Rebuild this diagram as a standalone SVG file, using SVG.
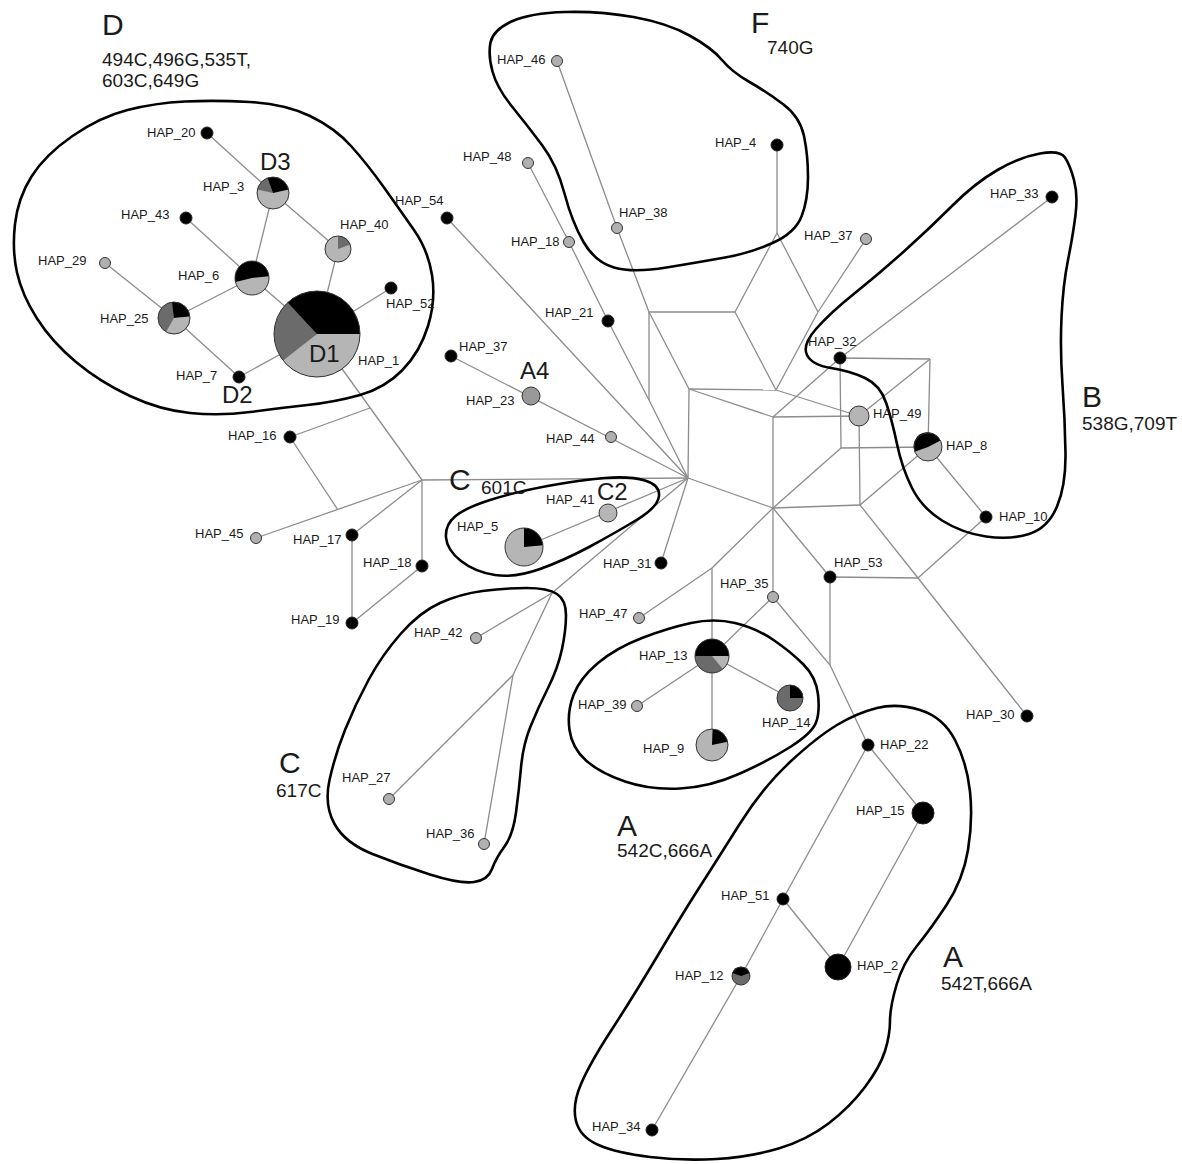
<svg xmlns="http://www.w3.org/2000/svg" width="1182" height="1164" viewBox="0 0 1182 1164">
<style>
.e{stroke:#8c8c8c;stroke-width:1.3;fill:none}
.hull{fill:none;stroke:#000;stroke-width:2.6}
text{font-family:"Liberation Sans",Arial,sans-serif;fill:#1a1a1a}
.lbl{font-size:13px}
.big{font-size:30px}
.mut{font-size:19px}
.sub{font-size:24px}
.nb{fill:#000;stroke:#222;stroke-width:1}
.ng{fill:#b0b0b0;stroke:#333;stroke-width:1}
.k{fill:#000}
.dg{fill:#6b6b6b}
.lg{fill:#b5b5b5}
.ring{fill:none;stroke:#333;stroke-width:1}
</style>
<rect width="1182" height="1164" fill="#fff"/>
<g id="connectors">
<line class="e" x1="207" y1="133" x2="273" y2="193"/>
<line class="e" x1="273" y1="193" x2="338" y2="249"/>
<line class="e" x1="273" y1="193" x2="252" y2="278"/>
<line class="e" x1="186" y1="218" x2="252" y2="278"/>
<line class="e" x1="252" y1="278" x2="174" y2="318"/>
<line class="e" x1="105" y1="263" x2="174" y2="318"/>
<line class="e" x1="174" y1="318" x2="239" y2="377"/>
<line class="e" x1="239" y1="377" x2="317" y2="334"/>
<line class="e" x1="252" y1="278" x2="317" y2="334"/>
<line class="e" x1="338" y1="249" x2="317" y2="334"/>
<line class="e" x1="391" y1="288" x2="317" y2="334"/>
<line class="e" x1="317" y1="334" x2="422" y2="480"/>
<line class="e" x1="290" y1="437" x2="370" y2="408"/>
<line class="e" x1="290" y1="437" x2="338" y2="510"/>
<line class="e" x1="256" y1="538" x2="422" y2="480"/>
<line class="e" x1="422" y1="480" x2="352" y2="535"/>
<line class="e" x1="352" y1="535" x2="352" y2="623"/>
<line class="e" x1="422" y1="480" x2="422" y2="566"/>
<line class="e" x1="422" y1="566" x2="352" y2="623"/>
<line class="e" x1="422" y1="480" x2="688" y2="478"/>
<line class="e" x1="447" y1="218" x2="688" y2="478"/>
<polyline class="e" points="528,163 569,242 608,321 649,400 688,478"/>
<polyline class="e" points="557,61 617,228 649,312"/>
<line class="e" x1="649" y1="312" x2="649" y2="400"/>
<line class="e" x1="649" y1="312" x2="689" y2="389"/>
<line class="e" x1="649" y1="312" x2="735" y2="312"/>
<line class="e" x1="777" y1="145" x2="777" y2="233"/>
<line class="e" x1="777" y1="233" x2="735" y2="312"/>
<line class="e" x1="777" y1="233" x2="818" y2="312"/>
<line class="e" x1="735" y1="312" x2="776" y2="390"/>
<line class="e" x1="818" y1="312" x2="776" y2="390"/>
<line class="e" x1="866" y1="239" x2="818" y2="312"/>
<line class="e" x1="689" y1="389" x2="776" y2="390"/>
<line class="e" x1="689" y1="389" x2="688" y2="478"/>
<line class="e" x1="689" y1="389" x2="773" y2="417"/>
<line class="e" x1="776" y1="390" x2="859" y2="416"/>
<line class="e" x1="840" y1="358" x2="930" y2="359"/>
<line class="e" x1="930" y1="359" x2="928" y2="447"/>
<line class="e" x1="928" y1="447" x2="841" y2="448"/>
<line class="e" x1="841" y1="448" x2="840" y2="358"/>
<line class="e" x1="773" y1="417" x2="859" y2="416"/>
<line class="e" x1="859" y1="416" x2="860" y2="505"/>
<line class="e" x1="860" y1="505" x2="773" y2="508"/>
<line class="e" x1="773" y1="508" x2="773" y2="417"/>
<line class="e" x1="840" y1="358" x2="773" y2="417"/>
<line class="e" x1="930" y1="359" x2="859" y2="416"/>
<line class="e" x1="928" y1="447" x2="860" y2="505"/>
<line class="e" x1="841" y1="448" x2="773" y2="508"/>
<line class="e" x1="1052" y1="197" x2="840" y2="358"/>
<line class="e" x1="928" y1="447" x2="986" y2="517"/>
<line class="e" x1="688" y1="478" x2="773" y2="508"/>
<line class="e" x1="451" y1="356" x2="688" y2="478"/>
<line class="e" x1="524" y1="547" x2="688" y2="478"/>
<line class="e" x1="688" y1="478" x2="661" y2="563"/>
<line class="e" x1="688" y1="478" x2="552" y2="593"/>
<line class="e" x1="552" y1="593" x2="476" y2="638"/>
<line class="e" x1="552" y1="593" x2="513" y2="675"/>
<line class="e" x1="513" y1="675" x2="389" y2="799"/>
<line class="e" x1="513" y1="675" x2="484" y2="844"/>
<line class="e" x1="773" y1="508" x2="712" y2="568"/>
<line class="e" x1="712" y1="568" x2="639" y2="618"/>
<line class="e" x1="712" y1="568" x2="712" y2="656"/>
<line class="e" x1="773" y1="508" x2="773" y2="597"/>
<line class="e" x1="773" y1="508" x2="830" y2="577"/>
<line class="e" x1="773" y1="597" x2="712" y2="656"/>
<line class="e" x1="712" y1="656" x2="637" y2="706"/>
<line class="e" x1="712" y1="656" x2="790" y2="698"/>
<line class="e" x1="712" y1="656" x2="712" y2="745"/>
<polyline class="e" points="773,597 830,665 868,745"/>
<line class="e" x1="830" y1="577" x2="830" y2="665"/>
<line class="e" x1="830" y1="577" x2="918" y2="578"/>
<line class="e" x1="918" y1="578" x2="986" y2="517"/>
<line class="e" x1="918" y1="578" x2="860" y2="505"/>
<line class="e" x1="918" y1="578" x2="1027" y2="716"/>
<line class="e" x1="868" y1="745" x2="923" y2="813"/>
<line class="e" x1="868" y1="745" x2="783" y2="899"/>
<line class="e" x1="783" y1="899" x2="838" y2="967"/>
<line class="e" x1="923" y1="813" x2="838" y2="967"/>
<polyline class="e" points="783,899 741,976 652,1130"/>
</g>
<g id="hulls">
<path id="hull_D" class="hull" d="M185,101.5 Q215,100 250,102 Q285,104 310,116 Q335,128 351.5,146.5 Q368,165 384,187.5 Q400,210 414,230 Q428,250 432,275 Q436,300 428,326 Q420,352 402.5,370 Q385,388 360,395 Q335,402 307.5,405 Q280,408 250,412 Q220,416 190,413 Q160,410 130,396 Q100,382 76,362 Q52,342 37,318.5 Q22,295 17,272.5 Q12,250 15,224 Q18,198 31.5,176.5 Q45,155 72.5,136 Q100,117 127.5,110 Q155,103 185,101.5 Z"/>
<path id="hull_F" class="hull" d="M490.5,42.5 Q493,30 511.5,21.5 Q530,13 565,12 Q600,11 633.5,17 Q667,23 689.5,35.5 Q712,48 722,60 Q732,72 749.5,82 Q767,92 783.5,104.5 Q800,117 804,136 Q808,155 808,177.5 Q808,200 801.5,216.5 Q795,233 772.5,243 Q750,253 725,257.5 Q700,262 666.5,267.5 Q633,273 614,267.5 Q595,262 583.5,242 Q572,222 564.5,193.5 Q557,165 542,145 Q527,125 512,106.5 Q497,88 492.5,71.5 Q488,55 490.5,42.5 Z"/>
<path id="hull_B" class="hull" d="M1040,153.5 Q1060,150 1065,157.5 Q1070,165 1074,180 Q1078,195 1075.5,215 Q1073,235 1068,260 Q1063,285 1061.5,317.5 Q1060,350 1062.5,385 Q1065,420 1065.5,452.5 Q1066,485 1057,506.5 Q1048,528 1029,534 Q1010,540 986,536.5 Q962,533 942,520.5 Q922,508 912,488 Q902,468 897,444 Q892,420 886,402.5 Q880,385 865,378 Q850,371 831,368 Q812,365 807,355 Q802,345 816,329 Q830,313 855,293 Q880,273 905,250.5 Q930,228 952.5,205.5 Q975,183 997.5,170 Q1020,157 1040,153.5 Z"/>
<path id="hull_C601" class="hull" d="M446,537.5 Q445,525 455,516.5 Q465,508 490,500 Q515,492 547.5,486 Q580,480 605,478 Q630,476 645,480.5 Q660,485 659,496 Q658,507 636.5,520 Q615,533 590,546.5 Q565,560 540,569 Q515,578 495,575 Q475,572 461,561 Q447,550 446,537.5 Z"/>
<path id="hull_C617" class="hull" d="M482.5,591 Q505,588 526.5,588 Q548,588 557,594 Q566,600 566,615 Q566,630 562,649 Q558,668 548,688 Q538,708 530.5,726.5 Q523,745 521,767.5 Q519,790 516,812.5 Q513,835 504.5,846.5 Q496,858 492,869 Q488,880 474,882 Q460,884 430,874.5 Q400,865 372.5,854 Q345,843 334.5,824 Q324,805 329.5,780 Q335,755 345,730 Q355,705 368.5,680 Q382,655 401,633.5 Q420,612 440,603 Q460,594 482.5,591 Z"/>
<path id="hull_A13" class="hull" d="M569.5,730 Q567,712 573.5,695 Q580,678 598,663 Q616,648 642,638 Q668,628 691,623 Q714,618 735,623 Q756,628 773.5,640 Q791,652 803.5,664.5 Q816,677 818,694.5 Q820,712 816,722.5 Q812,733 791,746.5 Q770,760 740,773.5 Q710,787 680,788.5 Q650,790 625,781.5 Q600,773 586,760.5 Q572,748 569.5,730 Z"/>
<path id="hull_A" class="hull" d="M877,708 Q897,703 920,710 Q943,717 955,740 Q967,763 970,791.5 Q973,820 968,850 Q963,880 946.5,905 Q930,930 916.5,946.5 Q903,963 896.5,985 Q890,1007 890,1021 Q890,1035 885,1051 Q880,1067 865,1087 Q850,1107 828.5,1123.5 Q807,1140 778.5,1148.5 Q750,1157 716.5,1159 Q683,1161 650,1157 Q617,1153 598.5,1145 Q580,1137 576,1121 Q572,1105 581,1084 Q590,1063 611.5,1030 Q633,997 658,955 Q683,913 700,886.5 Q717,860 740,823.5 Q763,787 790,762 Q817,737 837,725 Q857,713 877,708 Z"/>
</g>
<g id="nodes">
<g id="hap_1"><circle class="dg" cx="317" cy="334" r="43"/><path class="k" d="M317,334 L287.7,302.6 A43,43 0 0 1 360,334 Z"/><path class="lg" d="M317,334 L360,334 A43,43 0 0 1 283.1,360.5 Z"/><circle class="ring" cx="317" cy="334" r="43"/><text class="lbl" x="358" y="365">HAP_1</text></g>
<g id="hap_3"><circle class="lg" cx="273" cy="193" r="16"/><path class="dg" d="M273,193 L257.4,189.4 A16,16 0 0 1 267.5,178 Z"/><path class="k" d="M273,193 L267.5,178 A16,16 0 0 1 288.6,189.5 Z"/><circle class="ring" cx="273" cy="193" r="16"/><text class="lbl" x="203" y="191">HAP_3</text></g>
<g id="hap_40"><circle class="lg" cx="338" cy="249" r="13"/><path class="dg" d="M338,249 L338,236 A13,13 0 0 1 350.2,244.6 Z"/><circle class="ring" cx="338" cy="249" r="13"/><text class="lbl" x="340" y="229">HAP_40</text></g>
<g id="hap_6"><circle class="lg" cx="252" cy="278" r="17"/><path class="k" d="M252,278 L235.5,282.1 A17,17 0 1 1 268.9,276.2 Z"/><circle class="ring" cx="252" cy="278" r="17"/><text class="lbl" x="178" y="280">HAP_6</text></g>
<g id="hap_25"><circle class="dg" cx="174" cy="318" r="16"/><path class="k" d="M174,318 L172,302.1 A16,16 0 0 1 189.9,316.6 Z"/><path class="lg" d="M174,318 L189.9,316.6 A16,16 0 0 1 166,331.9 Z"/><circle class="ring" cx="174" cy="318" r="16"/><text class="lbl" x="100" y="323">HAP_25</text></g>
<g id="hap_20"><circle class="nb" cx="207" cy="133" r="6"/><text class="lbl" x="147" y="137">HAP_20</text></g>
<g id="hap_43"><circle class="nb" cx="186" cy="218" r="6"/><text class="lbl" x="121" y="219">HAP_43</text></g>
<g id="hap_29"><circle class="ng" cx="105" cy="263" r="5.5"/><text class="lbl" x="38" y="265">HAP_29</text></g>
<g id="hap_52"><circle class="nb" cx="391" cy="288" r="6"/><text class="lbl" x="386" y="308">HAP_52</text></g>
<g id="hap_7"><circle class="nb" cx="239" cy="377" r="6"/><text class="lbl" x="176" y="380">HAP_7</text></g>
<g id="hap_54"><circle class="nb" cx="447" cy="218" r="6"/><text class="lbl" x="395" y="205">HAP_54</text></g>
<g id="hap_46"><circle class="ng" cx="557" cy="61" r="5.5"/><text class="lbl" x="497" y="64">HAP_46</text></g>
<g id="hap_4"><circle class="nb" cx="777" cy="145" r="6"/><text class="lbl" x="715" y="147">HAP_4</text></g>
<g id="hap_48"><circle class="ng" cx="528" cy="163" r="5.5"/><text class="lbl" x="463" y="161">HAP_48</text></g>
<g id="hap_38"><circle class="ng" cx="617" cy="228" r="5.5"/><text class="lbl" x="619" y="217">HAP_38</text></g>
<g id="hap_18a"><circle class="ng" cx="569" cy="242" r="5.5"/><text class="lbl" x="511" y="246">HAP_18</text></g>
<g id="hap_37b"><circle class="ng" cx="866" cy="239" r="5.5"/><text class="lbl" x="804" y="240">HAP_37</text></g>
<g id="hap_21"><circle class="nb" cx="608" cy="321" r="6"/><text class="lbl" x="545" y="317">HAP_21</text></g>
<g id="hap_33"><circle class="nb" cx="1052" cy="197" r="6"/><text class="lbl" x="990" y="198">HAP_33</text></g>
<g id="hap_32"><circle class="nb" cx="840" cy="358" r="6"/><text class="lbl" x="808" y="346">HAP_32</text></g>
<g id="hap_49"><circle class="lg" cx="859" cy="416" r="10" stroke="#333" stroke-width="1"/><text class="lbl" x="873" y="418">HAP_49</text></g>
<g id="hap_8"><circle class="lg" cx="928" cy="447" r="14"/><path class="k" d="M928,447 L914.8,451.8 A14,14 0 0 1 940.5,440.6 Z"/><circle class="ring" cx="928" cy="447" r="14"/><text class="lbl" x="946" y="450">HAP_8</text></g>
<g id="hap_10"><circle class="nb" cx="986" cy="517" r="6"/><text class="lbl" x="999" y="521">HAP_10</text></g>
<g id="hap_37a"><circle class="nb" cx="451" cy="356" r="6"/><text class="lbl" x="459" y="351">HAP_37</text></g>
<g id="hap_23"><circle cx="531" cy="396" r="9" fill="#999" stroke="#333" stroke-width="1"/><text class="lbl" x="466" y="405">HAP_23</text></g>
<g id="hap_44"><circle class="ng" cx="611" cy="437" r="5.5"/><text class="lbl" x="546" y="443">HAP_44</text></g>
<g id="hap_16"><circle class="nb" cx="290" cy="437" r="6"/><text class="lbl" x="228" y="440">HAP_16</text></g>
<g id="hap_41"><circle class="lg" cx="608" cy="513" r="9" stroke="#333" stroke-width="1"/><text class="lbl" x="546" y="504">HAP_41</text></g>
<g id="hap_5"><circle class="lg" cx="524" cy="547" r="19"/><path class="k" d="M524,547 L524,528 A19,19 0 0 1 542.9,545.3 Z"/><circle class="ring" cx="524" cy="547" r="19"/><text class="lbl" x="457" y="531">HAP_5</text></g>
<g id="hap_45"><circle class="ng" cx="256" cy="538" r="5.5"/><text class="lbl" x="195" y="538">HAP_45</text></g>
<g id="hap_17"><circle class="nb" cx="352" cy="535" r="6"/><text class="lbl" x="293" y="544">HAP_17</text></g>
<g id="hap_18b"><circle class="nb" cx="422" cy="566" r="6"/><text class="lbl" x="363" y="567">HAP_18</text></g>
<g id="hap_19"><circle class="nb" cx="352" cy="623" r="6"/><text class="lbl" x="291" y="624">HAP_19</text></g>
<g id="hap_31"><circle class="nb" cx="661" cy="563" r="6"/><text class="lbl" x="603" y="568">HAP_31</text></g>
<g id="hap_47"><circle class="ng" cx="639" cy="618" r="5.5"/><text class="lbl" x="579" y="618">HAP_47</text></g>
<g id="hap_42"><circle class="ng" cx="476" cy="638" r="5.5"/><text class="lbl" x="414" y="637">HAP_42</text></g>
<g id="hap_27"><circle class="ng" cx="389" cy="799" r="5.5"/><text class="lbl" x="342" y="782">HAP_27</text></g>
<g id="hap_36"><circle class="ng" cx="484" cy="844" r="5.5"/><text class="lbl" x="426" y="838">HAP_36</text></g>
<g id="hap_35"><circle class="ng" cx="773" cy="597" r="5.5"/><text class="lbl" x="720" y="588">HAP_35</text></g>
<g id="hap_53"><circle class="nb" cx="830" cy="577" r="6"/><text class="lbl" x="834" y="567">HAP_53</text></g>
<g id="hap_30"><circle class="nb" cx="1027" cy="716" r="6"/><text class="lbl" x="966" y="719">HAP_30</text></g>
<g id="hap_13"><circle class="dg" cx="712" cy="656" r="17"/><path class="k" d="M712,656 L695,656 A17,17 0 0 1 729,656 Z"/><path class="lg" d="M712,656 L729,656 A17,17 0 0 1 722.9,669 Z"/><circle class="ring" cx="712" cy="656" r="17"/><text class="lbl" x="639" y="660">HAP_13</text></g>
<g id="hap_39"><circle class="ng" cx="637" cy="706" r="5.5"/><text class="lbl" x="578" y="709">HAP_39</text></g>
<g id="hap_14"><circle class="dg" cx="790" cy="698" r="13"/><path class="k" d="M790,698 L790,685 A13,13 0 0 1 803,698 Z"/><circle class="ring" cx="790" cy="698" r="13"/><text class="lbl" x="762" y="727">HAP_14</text></g>
<g id="hap_9"><circle class="lg" cx="712" cy="745" r="16"/><path class="k" d="M712,745 L712.6,729 A16,16 0 0 1 727.6,741.7 Z"/><circle class="ring" cx="712" cy="745" r="16"/><text class="lbl" x="643" y="753">HAP_9</text></g>
<g id="hap_22"><circle class="nb" cx="868" cy="745" r="6"/><text class="lbl" x="880" y="749">HAP_22</text></g>
<g id="hap_15"><circle class="nb" cx="923" cy="813" r="11"/><text class="lbl" x="856" y="815">HAP_15</text></g>
<g id="hap_51"><circle class="nb" cx="783" cy="899" r="6"/><text class="lbl" x="721" y="900">HAP_51</text></g>
<g id="hap_2"><circle class="nb" cx="838" cy="967" r="13"/><text class="lbl" x="857" y="970">HAP_2</text></g>
<g id="hap_12"><circle class="dg" cx="741" cy="976" r="9"/><path class="k" d="M741,976 L732.5,972.9 A9,9 0 0 1 749.5,972.9 Z"/><circle class="ring" cx="741" cy="976" r="9"/><text class="lbl" x="675" y="980">HAP_12</text></g>
<g id="hap_34"><circle class="nb" cx="652" cy="1130" r="6"/><text class="lbl" x="592" y="1131">HAP_34</text></g>
</g>
<g id="annotations">
<text class="big" x="102" y="35">D</text>
<text class="mut" x="102" y="66">494C,496G,535T,</text>
<text class="mut" x="102" y="87">603C,649G</text>
<text class="sub" x="260" y="170">D3</text>
<text class="sub" x="309" y="362">D1</text>
<text class="sub" x="222" y="403">D2</text>
<text class="big" x="751" y="33">F</text>
<text class="mut" x="767" y="54">740G</text>
<text class="big" x="1082" y="407">B</text>
<text class="mut" x="1082" y="430">538G,709T</text>
<text class="big" x="449" y="490">C</text>
<text class="mut" x="481" y="494">601C</text>
<text class="sub" x="597" y="500">C2</text>
<text class="sub" x="520" y="379">A4</text>
<text class="big" x="279" y="773">C</text>
<text class="mut" x="276" y="797">617C</text>
<text class="big" x="617" y="836">A</text>
<text class="mut" x="617" y="857">542C,666A</text>
<text class="big" x="943" y="967">A</text>
<text class="mut" x="941" y="990">542T,666A</text>
</g>
</svg>
